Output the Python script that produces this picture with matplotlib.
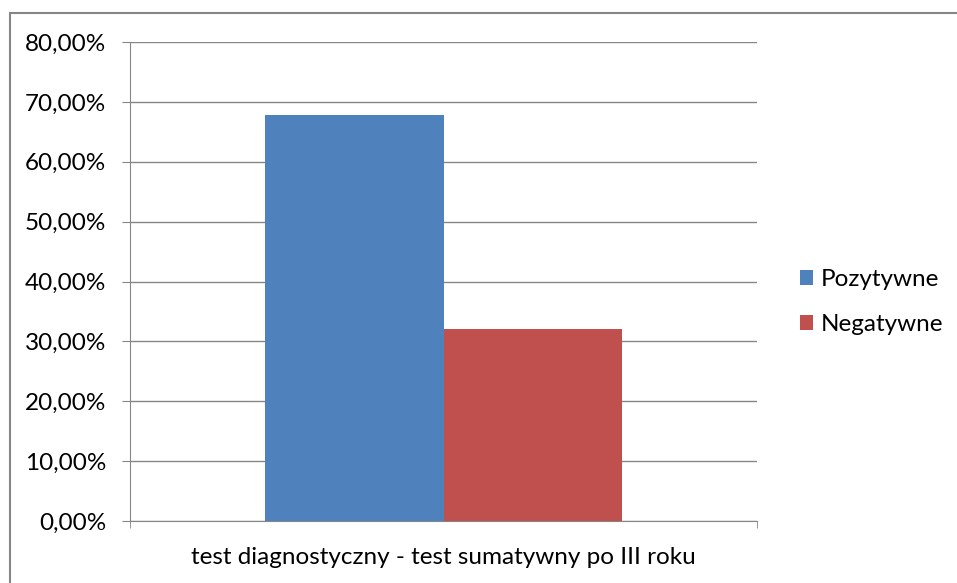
import matplotlib.pyplot as plt
from matplotlib.patches import Rectangle
from matplotlib.ticker import FuncFormatter

# data
category = "test diagnostyczny - test sumatywny po III roku"
series = ["Pozytywne", "Negatywne"]
values = [0.678, 0.32]
colors = ["#4f81bd", "#c0504d"]

plt.rcParams['font.family'] = ['Lato', 'DejaVu Sans']

fig = plt.figure(figsize=(9.57, 5.83), dpi=100)
W, H = 957, 583
ax = fig.add_axes([130 / W, 1 - 521 / H, 627 / W, 479 / H])

# outer chart border (cropped on the right and at the bottom)
fig.patches.append(Rectangle((10 / W, -0.1), 1.0, (1 - 13 / H) + 0.1,
                             transform=fig.transFigure, fill=False,
                             edgecolor="#868686", linewidth=1.5))

bw = 0.284
offs = [-bw / 2, bw / 2]
for i in range(len(series)):
    ax.bar(offs[i], values[i], width=bw, color=colors[i], label=series[i], zorder=3)

ax.set_xlim(-0.5, 0.5)
ax.set_ylim(0, 0.8)
ax.set_yticks([i / 10 for i in range(9)])
ax.yaxis.set_major_formatter(FuncFormatter(lambda v, p: ("%.2f%%" % (v * 100)).replace(".", ",")))
ax.grid(axis="y", color="#868686", linewidth=1.0, zorder=0)

ax.set_xticks([0])
ax.set_xticklabels([category])
ax.set_xticks([-0.5, 0.5], minor=True)
ax.tick_params(axis="x", which="major", length=0, pad=19, labelsize=17.5)
ax.tick_params(axis="x", which="minor", length=5, color="#868686", direction="out")
ax.tick_params(axis="y", length=6, color="#868686", labelsize=17.5, pad=11)

for s in ["top", "right"]:
    ax.spines[s].set_visible(False)
for s in ["left", "bottom"]:
    ax.spines[s].set_color("#868686")

ax.legend(loc="center left", bbox_to_anchor=((800 - 130) / 627, (521 - 302) / 479),
          frameon=False, borderaxespad=0, borderpad=0,
          fontsize=17.5, handlelength=0.55, handleheight=0.55, handletextpad=0.3,
          labelspacing=1.0)

fig.savefig("out.png", dpi=100)
